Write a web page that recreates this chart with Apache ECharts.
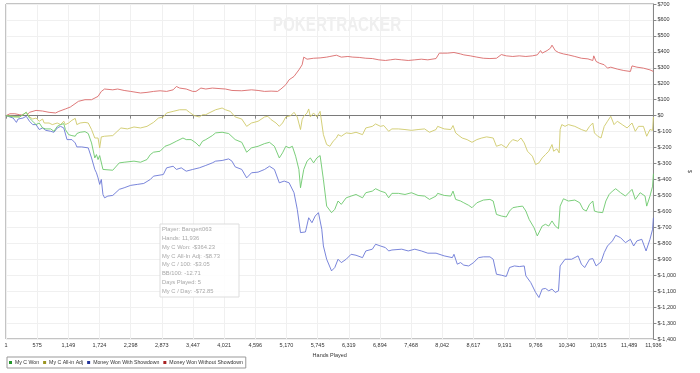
<!DOCTYPE html>
<html><head><meta charset="utf-8">
<script src="https://cdn.jsdelivr.net/npm/echarts@6/dist/echarts.min.js"></script>
<style>html,body{margin:0;padding:0;background:#fff}#c{width:700px;height:373px}</style>
</head><body><div id="c"></div>
<script>
const xTicks = [1,575,1149,1724,2298,2873,3447,4021,4596,5170,5745,6319,6894,7468,8042,8617,9191,9766,10340,10915,11489,11936];
const seriesNames = ['My C Won','My C All-in Adj','Money Won With Showdown','Money Won Without Showdown'];
const infoLines = ['Player: Bangert063','Hands: 11,936','My C Won: -$364.23','My C All-In Adj: -$8.73','My C / 100: -$3.05','BB/100: -12.71','Days Played: 5','My C / Day: -$72.85'];

const noShowdownPts = [[1,0],[73,12],[163,12],[253,6],[374,0],[434,21],[554,33],[675,29],[795,21],[915,17],[976,27],[1096,42],[1186,54],[1337,90],[1457,100],[1578,100],[1698,121],[1758,152],[1818,167],[1969,162],
[2059,167],[2179,158],[2299,152],[2480,142],[2600,146],[2721,152],[2841,156],[2962,152],[3082,162],[3142,183],[3202,173],[3323,167],[3443,152],[3503,152],[3594,173],[3684,167],[3804,173],
[4046,167],[4166,158],[4347,156],[4527,162],[4648,158],[4768,152],[4888,154],[5009,152],[5069,167],[5159,194],[5220,225],[5310,246],[5400,287],[5460,319],[5490,367],[5551,354],[5671,360],[5791,362],[5912,367],
[5971,371],[6092,379],[6182,367],[6303,371],[6393,367],[6513,365],[6634,360],[6754,358],[6874,350],[6995,346],[7085,350],[7175,354],[7296,350],[7416,346],[7537,350],[7657,354],[7777,350],[7928,358],
[7989,392],[8139,392],[8259,396],[8380,387],[8440,381],[8560,375],[8681,367],[8801,360],[8922,358],[9042,360],[9132,383],[9223,375],[9343,371],[9463,375],[9584,371],[9704,375],[9795,381],[9855,408],[9885,392],[9976,408],[10036,423],[10066,442],[10126,408],[10186,396],[10277,387],[10367,381],[10487,371],[10608,360],[10728,356],[10818,346],[10836,375],[10879,340],[10939,329],[11029,319],[11089,298],[11149,304],[11270,292],[11390,283],[11511,277],[11541,312],[11631,304],[11751,298],[11872,287],[11936,277]];

const allInPts = [[1,0],[253,-8],[374,21],[434,-8],[494,-21],[554,-15],[614,-35],[675,-21],[705,-46],[795,-46],[855,-56],[946,-46],[1006,-56],[1066,-35],[1096,-56],[1156,-46],[1216,-29],[1277,-17],[1307,-56],[1367,-46],[1457,-42],[1517,-46],[1578,-87],[1638,-140],[1698,-140],[1728,-202],[1758,-133],[1818,-129],[1969,-125],
[1998,-119],[2119,-77],[2239,-83],[2360,-71],[2480,-77],[2600,-67],[2721,-42],[2811,-15],[2901,-8],[2962,17],[3082,27],[3202,37],[3323,37],[3383,21],[3473,0],[3564,-8],[3624,6],[3684,6],[3744,17],[3865,37],
[3985,48],[4046,37],[4136,27],[4226,-8],[4347,-21],[4437,-67],[4527,-46],[4648,-35],[4768,-8],[4828,-4],[4888,-25],[4979,-46],[5039,-67],[5099,-46],[5159,-8],[5250,0],[5310,21],[5370,-8],[5430,-87],[5460,-25],[5490,-4],[5551,17],[5581,42],[5611,-8],[5671,17],[5731,-8],[5791,27],[5852,-119],[5912,-181],
[5971,-192],[6032,-160],[6092,-140],[6122,-119],[6182,-129],[6272,-108],[6363,-112],[6453,-104],[6573,-119],[6634,-77],[6754,-67],[6814,-52],[6905,-67],[6965,-62],[7055,-98],[7115,-83],[7236,-83],[7356,-87],[7476,-92],[7597,-87],[7717,-83],[7808,-104],[7928,-87],
[7958,-67],[8079,-83],[8199,-87],[8241,-62],[8290,-108],[8350,-125],[8410,-140],[8500,-150],[8591,-167],[8681,-150],[8771,-140],[8861,-133],[8982,-140],[9042,-192],[9132,-181],[9223,-202],[9283,-171],[9343,-150],[9433,-160],[9494,-140],[9554,-171],[9614,-223],[9704,-254],[9764,-306],[9825,-296],
[9885,-265],[9945,-244],[10006,-223],[10066,-181],[10096,-223],[10156,-208],[10198,-233],[10216,-87],[10246,-56],[10307,-67],[10367,-56],[10487,-67],[10547,-77],[10608,-87],[10698,-98],[10758,-67],[10818,-46],[10848,-108],[10909,-129],[10969,-140],[11029,-67],[11089,-35],[11149,-4],[11210,-56],[11270,-35],[11360,-56],[11450,-77],[11541,-46],[11601,-98],[11661,-67],[11751,-67],[11812,-129],[11872,-87],[11920,-92],[11936,-8]];

const wonPts = [[1,0],[133,-8],[253,-8],[374,21],[434,-15],[494,-35],[554,-56],[614,-46],[675,-77],[735,-83],[825,-83],[885,-98],[946,-67],[1006,-56],[1066,-50],[1096,-87],[1156,-119],[1216,-125],[1277,-129],[1307,-112],[1367,-104],[1457,-100],[1517,-112],[1578,-171],[1638,-265],[1668,-244],[1698,-275],[1728,-250],[1758,-250],[1788,-337],[1818,-348],[1969,-342],
[1998,-333],[2089,-296],[2179,-292],[2360,-285],[2480,-292],[2600,-275],[2661,-244],[2721,-229],[2841,-223],[2932,-192],[3022,-181],[3142,-160],[3263,-140],[3323,-150],[3413,-150],[3503,-171],[3564,-192],[3624,-160],[3684,-150],[3804,-125],[3865,-108],
[3985,-104],[4106,-112],[4226,-150],[4347,-167],[4437,-229],[4527,-202],[4648,-192],[4768,-175],[4858,-167],[4949,-192],[5039,-265],[5099,-233],[5159,-192],[5220,-202],[5280,-192],[5340,-254],[5400,-337],[5430,-452],[5490,-337],[5551,-285],[5611,-265],[5671,-296],[5731,-265],[5791,-250],[5852,-400],[5912,-567],
[6002,-608],[6062,-587],[6122,-535],[6182,-556],[6272,-515],[6363,-504],[6453,-494],[6573,-515],[6634,-483],[6754,-473],[6814,-458],[6905,-473],[6995,-483],[7055,-515],[7115,-487],[7236,-487],[7356,-494],[7476,-483],[7597,-500],[7717,-504],[7808,-525],[7928,-504],
[7958,-487],[8079,-500],[8199,-504],[8241,-473],[8290,-525],[8380,-535],[8440,-546],[8530,-562],[8591,-577],[8681,-546],[8801,-529],[8922,-525],[8982,-535],[9042,-619],[9132,-629],[9223,-635],[9283,-598],[9343,-577],[9433,-571],[9524,-567],[9584,-598],[9644,-650],[9734,-702],[9795,-754],
[9825,-765],[9885,-692],[9945,-681],[10006,-692],[10066,-660],[10126,-692],[10186,-708],[10216,-567],[10277,-521],[10367,-535],[10487,-529],[10578,-546],[10638,-587],[10698,-598],[10758,-556],[10818,-535],[10848,-598],[10909,-604],[10999,-608],[11059,-535],[11119,-494],[11180,-473],[11240,-458],[11330,-483],[11420,-504],[11541,-462],[11601,-525],[11691,-483],[11781,-504],[11812,-567],[11872,-504],[11920,-442],[11936,-364]];

const showdownPts = [[1,0],[133,-15],[193,-42],[223,-21],[313,-15],[374,-4],[434,-35],[494,-56],[554,-56],[614,-87],[675,-77],[735,-92],[825,-98],[885,-104],[946,-77],[1006,-67],[1066,-77],[1126,-150],[1216,-150],[1277,-171],[1307,-196],[1397,-196],[1517,-202],[1578,-265],[1638,-337],[1668,-358],[1698,-390],[1728,-431],[1758,-400],[1788,-494],[1818,-515],[1879,-504],[1969,-500],
[1998,-504],[2089,-462],[2179,-452],[2299,-437],[2420,-431],[2540,-425],[2661,-400],[2721,-379],[2901,-369],[2962,-327],[3082,-317],[3142,-337],[3232,-327],[3323,-348],[3443,-337],[3564,-327],[3684,-312],[3804,-296],[3865,-285],
[3985,-281],[4106,-271],[4166,-285],[4226,-321],[4347,-337],[4437,-390],[4527,-358],[4648,-354],[4768,-337],[4858,-317],[4949,-337],[5039,-421],[5129,-410],[5220,-421],[5310,-483],[5370,-587],[5430,-733],[5521,-729],[5581,-640],[5641,-671],[5701,-629],[5761,-608],[5822,-712],[5852,-817],[5912,-900],
[6002,-973],[6062,-952],[6122,-900],[6182,-921],[6272,-900],[6363,-869],[6453,-875],[6573,-890],[6634,-848],[6754,-837],[6814,-806],[6905,-817],[6995,-827],[7055,-848],[7115,-842],[7296,-837],[7416,-848],[7537,-837],[7657,-848],[7777,-862],[7928,-862],
[7958,-869],[8079,-879],[8229,-890],[8259,-869],[8320,-931],[8380,-921],[8440,-937],[8530,-942],[8621,-921],[8711,-890],[8801,-885],[8922,-885],[8982,-900],[9042,-994],[9132,-1000],[9223,-1008],[9283,-952],[9373,-942],[9463,-946],[9554,-942],[9584,-1004],[9674,-1046],[9764,-1108],[9825,-1140],
[9885,-1087],[9945,-1083],[10006,-1098],[10066,-1087],[10126,-1108],[10186,-1098],[10216,-942],[10307,-900],[10427,-900],[10547,-879],[10608,-931],[10668,-952],[10758,-900],[10818,-896],[10879,-942],[10969,-917],[11029,-858],[11089,-817],[11180,-785],[11240,-750],[11330,-765],[11420,-796],[11511,-775],[11571,-817],[11631,-785],[11721,-775],[11800,-848],[11872,-775],[11920,-712],[11936,-640]];

const lineColors = ['#6cc86c','#cfc96a','#6a77d6','#da6a6a'];
const legendColors = ['#23962b','#9a9420','#22339a','#a82222'];
const FF = 'Liberation Sans, Arial, sans-serif';

const chart = echarts.init(document.getElementById('c'));
const nearestTick = v => xTicks.reduce((a,b)=>Math.abs(b-v)<Math.abs(a-v)?b:a);
const yFmt = v => '$' + (v<0?'-':'') + Math.abs(v).toLocaleString('en-US');

const dataSets = [wonPts, allInPts, showdownPts, noShowdownPts];
const series = seriesNames.map((n,i)=>({
  name:n, type:'line', data:dataSets[i], showSymbol:false, symbol:'none',
  lineStyle:{width:0.9,color:lineColors[i]}, itemStyle:{color:lineColors[i]}, z:3+(3-i),
  silent:true
}));
series[3].markLine = {silent:true, symbol:'none', label:{show:false},
  lineStyle:{color:'#7a7a7a',width:1,type:'solid'}, data:[{yAxis:0}]};

chart.setOption({
  animation:false,
  textStyle:{fontFamily:FF},
  grid:{left:6,right:33,top:4,bottom:34,show:true,borderColor:'#888',borderWidth:1,backgroundColor:'transparent'},
  xAxis:{type:'value',min:1,max:11936,interval:574.4,
    axisLine:{show:true,lineStyle:{color:'#888'}},
    axisTick:{show:true,length:3,lineStyle:{color:'#888'}},
    axisLabel:{fontSize:5.5,color:'#333',margin:3,fontFamily:FF,showMinLabel:true,showMaxLabel:true,
      formatter:v=>nearestTick(v).toLocaleString('en-US')},
    splitLine:{show:true,lineStyle:{color:'#f0f0f0',width:1}},
    name:'Hands Played',nameLocation:'middle',nameGap:10,
    nameTextStyle:{fontSize:5.5,color:'#333',fontFamily:FF}},
  yAxis:{type:'value',position:'right',min:-1400,max:700,interval:100,
    axisLine:{show:true,lineStyle:{color:'#888'}},
    axisTick:{show:true,length:3,lineStyle:{color:'#888'}},
    axisLabel:{fontSize:5.5,color:'#333',margin:4,fontFamily:FF,formatter:yFmt},
    splitLine:{show:true,lineStyle:{color:'#f0f0f0',width:1}},
    name:'$',nameLocation:'middle',nameGap:24,nameRotate:-90,
    nameTextStyle:{fontSize:5,color:'#333',fontFamily:FF}},
  legend:{left:7,top:357,orient:'horizontal',icon:'rect',itemWidth:3,itemHeight:3,itemGap:4,
    padding:[3,3,3,2],borderColor:'#999',borderWidth:1,selectedMode:false,
    textStyle:{fontSize:5.2,color:'#333',fontFamily:FF,padding:[0,0,0,-2]},
    data:seriesNames.map((n,i)=>({name:n,itemStyle:{color:legendColors[i]}}))},
  graphic:[
    {type:'text',x:337,y:25,scaleX:0.76,z:0,silent:true,
      style:{text:'POKERTRACKER',textAlign:'center',textVerticalAlign:'middle',
        font:'bold 20px '+FF,fill:'#efefef'}},
    {type:'rect',shape:{x:160,y:224,width:79,height:73},z:10,silent:true,
      style:{fill:'rgba(255,255,255,0.85)',stroke:'#dddddd',lineWidth:1}},
    {type:'text',x:162,y:225.5,z:11,silent:true,
      style:{text:infoLines.join('\n'),fontSize:5.8,lineHeight:8.75,fontFamily:FF,fill:'#a8a8a8',
        textAlign:'left',textVerticalAlign:'top'}}
  ],
  series:series
});
</script></body></html>
